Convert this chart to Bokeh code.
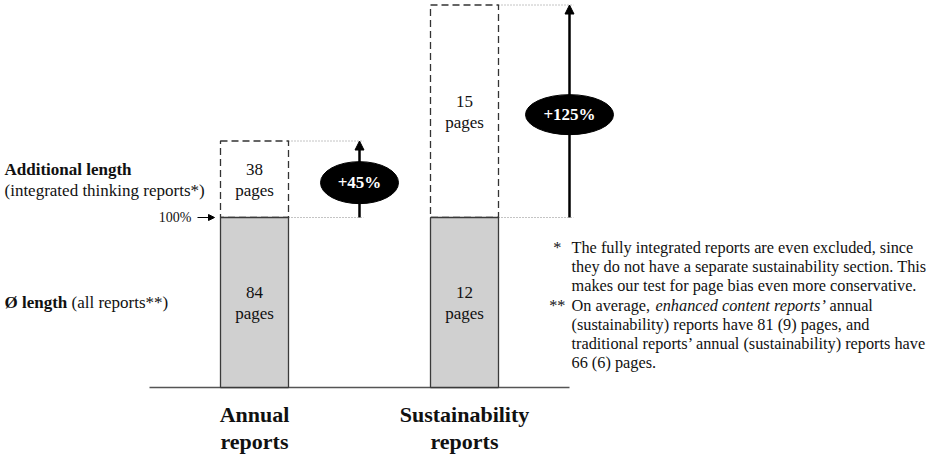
from bokeh.plotting import figure
from bokeh.models import Range1d, Arrow, NormalHead
from bokeh.embed import file_html
from bokeh.resources import INLINE
from bokeh.core.properties import value

# ---- data ----
categories = ["Annual\nreports", "Sustainability\nreports"]
avg_pages = [84, 12]            # Ø length (all reports)
additional_pages = [38, 15]     # additional length (integrated thinking reports)
base_pct = [100, 100]
increase_pct = [45, 125]

left_labels_bold = ["Additional length", "Ø length"]
left_labels_norm = ["(integrated thinking reports*)", "(all reports**)"]
footnotes = [
    ("*", "The fully integrated reports are even excluded, since"),
    ("", "they do not have a separate sustainability section. This"),
    ("", "makes our test for page bias even more conservative."),
    ("**", "On average, "),
    ("", "(sustainability) reports have 81 (9) pages, and"),
    ("", "traditional reports\u2019 annual (sustainability) reports have"),
    ("", "66 (6) pages."),
]

FONT = value("Liberation Serif")
W, H = 936, 456
PX_X = 210.0     # pixels per category step
PX_Y = 1.7       # pixels per percent
X0 = 254.0       # pixel of first category
Y0 = 387.0       # pixel of baseline


def dx(px):
    return (px - X0) / PX_X


p = figure(width=W, height=H, output_backend="svg", toolbar_location=None,
           x_range=Range1d(-X0 / PX_X, (W - X0) / PX_X),
           y_range=Range1d(-(H - Y0) / PX_Y, Y0 / PX_Y),
           min_border=0, outline_line_color=None)
p.axis.visible = False
p.grid.visible = False
p.background_fill_color = "white"

xs = list(range(len(categories)))
bw = 68 / PX_X
tops = [b + i for b, i in zip(base_pct, increase_pct)]
arrow_x = [x + 0.5 for x in xs]

# baseline
p.segment(x0=[xs[0] - 0.5], y0=[0], x1=[xs[-1] + 0.5], y1=[0],
          line_color="#555555", line_width=1.5)

# dotted guide lines
p.segment(x0=[x + bw / 2 for x in xs] * 2, y0=base_pct + tops,
          x1=[a + 0.02 for a in arrow_x] * 2, y1=base_pct + tops,
          line_color="#888888", line_width=1, line_dash="1 2")

# dashed additional boxes
p.vbar(x=xs, bottom=base_pct, top=tops, width=bw, fill_color="white",
       line_color="#333333", line_width=1.3, line_dash="7 4")
# base bars
p.vbar(x=xs, bottom=0, top=base_pct, width=bw, fill_color="#d0d0d0",
       line_color="#3a3a3a", line_width=1.3)

# arrows (drawn beneath glyphs so the ellipses cover them)
for ax, b, t in zip(arrow_x, base_pct, tops):
    p.add_layout(Arrow(end=NormalHead(size=9, fill_color="black", line_color="black"),
                       x_start=ax, y_start=b, x_end=ax, y_end=t,
                       line_width=2.5, line_color="black", level="underlay"))

# ellipses with increase labels
mids = [b + i / 2 - 2 for b, i in zip(base_pct, increase_pct)]
ew = [78 / PX_X, 88 / PX_X]
p.ellipse(x=arrow_x, y=mids, width=ew, height=[42 / PX_Y, 40 / PX_Y],
          fill_color="black", line_color="black")
p.text(x=arrow_x, y=mids, text=[f"+{v}%" for v in increase_pct],
       text_font=FONT, text_font_style="bold", text_font_size="17px",
       text_color="white", text_align="center", text_baseline="middle")

# bar page labels
add_mid = [b + i / 2 for b, i in zip(base_pct, increase_pct)]
base_mid = [b / 2 for b in base_pct]
for ys, vals in ((add_mid, additional_pages), (base_mid, avg_pages)):
    p.text(x=xs, y=ys, text=[str(v) for v in vals], y_offset=-10,
           text_font=FONT, text_font_size="17px", text_color="#111111",
           text_align="center", text_baseline="middle")
    p.text(x=xs, y=ys, text=["pages"] * len(xs), y_offset=11,
           text_font=FONT, text_font_size="17px", text_color="#111111",
           text_align="center", text_baseline="middle")

# category labels
for li in range(2):
    p.text(x=xs, y=[0] * len(xs), text=[c.split("\n")[li] for c in categories],
           y_offset=27 + li * 27, text_font=FONT, text_font_style="bold",
           text_font_size="22px", text_color="#111111",
           text_align="center", text_baseline="middle")

# left labels
lx = dx(4)
p.text(x=[lx], y=[add_mid[0]], text=[left_labels_bold[0]], y_offset=-10,
       text_font=FONT, text_font_style="bold", text_font_size="17px",
       text_color="#111111", text_baseline="middle")
p.text(x=[lx], y=[add_mid[0]], text=[left_labels_norm[0]], y_offset=11,
       text_font=FONT, text_font_size="17px",
       text_color="#111111", text_baseline="middle")
p.text(x=[lx], y=[base_mid[0]], text=[left_labels_bold[1]], y_offset=0,
       text_font=FONT, text_font_style="bold", text_font_size="17px",
       text_color="#111111", text_baseline="middle")
p.text(x=[dx(71)], y=[base_mid[0]], text=[left_labels_norm[1]], y_offset=0,
       text_font=FONT, text_font_size="17px",
       text_color="#111111", text_baseline="middle")

# 100% marker
p.text(x=[dx(191)], y=[base_pct[0]], text=["100%"],
       text_font=FONT, text_font_size="14px", text_color="#111111",
       text_align="right", text_baseline="middle")
p.add_layout(Arrow(end=NormalHead(size=6, fill_color="black", line_color="black"),
                   x_start=dx(197), y_start=base_pct[0],
                   x_end=dx(214), y_end=base_pct[0],
                   line_width=1.2, line_color="black", level="underlay"))

# footnotes
FS = "16.3px"
tx = 571
fy0 = (Y0 - 247) / PX_Y
step = 19.2
for i, (star, line) in enumerate(footnotes):
    if star:
        p.text(x=[dx(561 if star == "*" else 565)], y=[fy0], text=[star],
               y_offset=i * step, text_font=FONT, text_font_size=FS,
               text_color="#111111", text_align="right", text_baseline="middle")
    p.text(x=[dx(tx)], y=[fy0], text=[line], y_offset=i * step,
           text_font=FONT, text_font_size=FS, text_color="#111111",
           text_baseline="middle")
# italic part of footnote line 4, then the rest of it
p.text(x=[dx(tx + 84)], y=[fy0], text=["enhanced content reports\u2019"],
       y_offset=3 * step, text_font=FONT, text_font_style="italic",
       text_font_size=FS, text_color="#111111", text_baseline="middle")
p.text(x=[dx(tx + 258)], y=[fy0], text=["annual"],
       y_offset=3 * step, text_font=FONT,
       text_font_size=FS, text_color="#111111", text_baseline="middle")

open("out.html", "w").write(file_html(p, INLINE))
